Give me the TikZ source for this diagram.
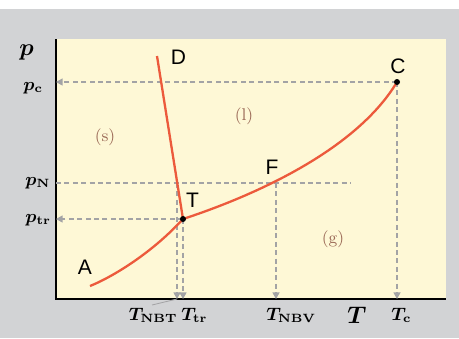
\documentclass[tikz,border=0pt]{standalone}
\usepackage{fontspec}
\newfontfamily\ptfont{Liberation Sans}
\usetikzlibrary{arrows.meta}
\definecolor{PhaseBack}{HTML}{D2D3D5}
\definecolor{PhaseYellow}{HTML}{FEF8D6}
\definecolor{PhaseRed}{HTML}{EC5A3C}
\definecolor{PhaseGuide}{HTML}{A3A3A5}
\definecolor{PhaseBrown}{HTML}{9C6B58}

\begin{document}
\begin{tikzpicture}[
    x=0.5pt, y=-0.5pt,
    curve/.style={draw=PhaseRed, line width=1.15pt},
    guide/.style={draw=PhaseGuide, line width=0.65pt, dash pattern=on 2.5pt off 1.7pt},
    guidearrow/.style={guide, -{Triangle[width=3.5pt,length=3.3pt]}},
    ptlabel/.style={font=\ptfont\fontsize{10.5}{12}\selectfont, inner sep=0pt},
    phase/.style={text=PhaseBrown, font=\fontsize{8.5}{9}\selectfont, inner sep=0pt},
    ticklabel/.style={font=\fontsize{9}{10}\selectfont\boldmath, inner sep=0pt, anchor=base west},
    axlabel/.style={font=\fontsize{11.5}{12}\selectfont\boldmath, inner sep=0pt, anchor=base west},
    dot/.style={circle, fill=black, inner sep=0pt, minimum size=3pt}
  ]
  \useasboundingbox (0,0) rectangle (459,338);
  \fill[PhaseBack] (0,9) rectangle (459,338);
  \fill[PhaseYellow] (56,39) rectangle (446,299);
  \draw[line width=1pt] (56,39) -- (56,299) -- (446,299);

  % points of the diagram
  \coordinate (A) at (90,286);
  \coordinate (D) at (157,56);
  \coordinate (T) at (183,219);
  \coordinate (F) at (276,183);
  \coordinate (C) at (397,82);
  \coordinate (meltN) at (177,183);

  % feet on the axes
  \coordinate (pcFoot) at (56,82);
  \coordinate (pNFoot) at (56,183);
  \coordinate (pNEnd) at (351,183);
  \coordinate (ptrFoot) at (56,219);
  \coordinate (nbtFoot) at (177,299);
  \coordinate (trFoot) at (183,299);
  \coordinate (nbvFoot) at (276,299);
  \coordinate (cFoot) at (397,299);
  \coordinate (nbtTick) at (152,305);

  % guides
  \draw[guidearrow] (C) -- (pcFoot);
  \draw[guide] (pNFoot) -- (pNEnd);
  \draw[guidearrow] (T) -- (ptrFoot);
  \draw[guidearrow] (meltN) -- (nbtFoot);
  \draw[guidearrow] (T) -- (trFoot);
  \draw[guidearrow] (F) -- (nbvFoot);
  \draw[guidearrow] (C) -- (cFoot);
  \draw[PhaseGuide, line width=0.4pt] (nbtTick) -- (nbtFoot);

  % phase boundaries
  \draw[curve] (A) .. controls (110,278) and (150,255) .. (T);
  \draw[curve] (D) -- (T);
  \draw[curve] (T) .. controls (250,197) and (355,152) .. (C);
  \node[dot] (Tdot) at (T) {};
  \node[dot] (Cdot) at (C) {};

  % point labels
  \node[ptlabel] (Dlab) at (178.5,57) {D};
  \node[ptlabel] (Clab) at (398,66) {C};
  \node[ptlabel] (Flab) at (272,167.5) {F};
  \node[ptlabel] (Tlab) at (192.5,200.5) {T};
  \node[ptlabel] (Alab) at (85,267) {A};

  % phases
  \node[phase] (solid) at (105,137) {(s)};
  \node[phase] (liquid) at (244,116.5) {(l)};
  \node[phase] (gas) at (333,239) {(g)};

  % axes
  \node[axlabel] (plab) at (19,55) {$p$};
  \node[ticklabel] (pclab) at (23,90) {$p_{\mathbf{c}}$};
  \node[ticklabel] (pNlab) at (25,185) {$p_{\mathbf{N}}$};
  \node[ticklabel] (ptrlab) at (25,222) {$p_{\mathbf{tr}}$};
  \node[ticklabel, anchor=base east] (nbtlab) at (178,320) {$T_{\mathbf{NBT}}$};
  \node[ticklabel] (trlab) at (181,320) {$T_{\mathbf{tr}}$};
  \node[ticklabel] (nbvlab) at (266,320) {$T_{\mathbf{NBV}}$};
  \node[axlabel] (Tax) at (347,323) {$T$};
  \node[ticklabel] (clab) at (391,320) {$T_{\mathbf{c}}$};
\end{tikzpicture}
\end{document}
